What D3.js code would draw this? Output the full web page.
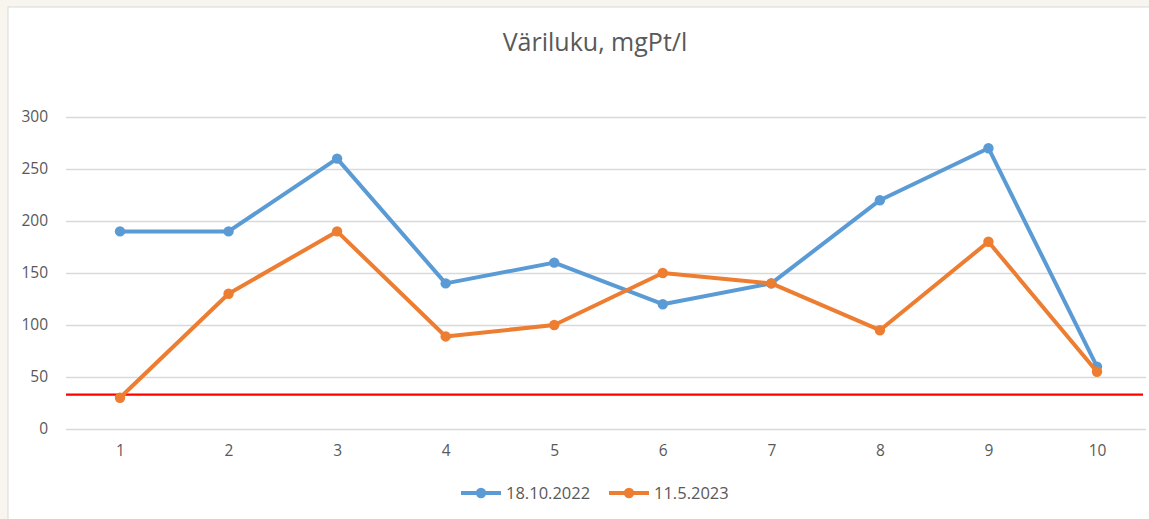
<!DOCTYPE html>
<html><head><meta charset="utf-8">
<script src="https://cdn.jsdelivr.net/npm/d3@7"></script>
<style>
html,body{margin:0;padding:0;background:#f7f5ee;}
svg{display:block;}
</style></head>
<body>
<svg id="chart" width="1149" height="519"></svg>
<script>
const categories = ["1","2","3","4","5","6","7","8","9","10"];
const series2022 = [190,190,260,140,160,120,140,220,270,60];
const series2023 = [30,130,190,89,100,150,140,95,180,55];
const seriesNames = ["18.10.2022","11.5.2023"];
const seriesColors = ["#5b9bd5","#ed7d31"];
const yTicks = [0,50,100,150,200,250,300];
const limitValue = 33;
const title = "Väriluku, mgPt/l";

const svg = d3.select("#chart");
const font = "'Open Sans', sans-serif";
const textColor = "#595959";

// chart area
svg.append("rect").attr("x",8).attr("y",7).attr("width",1149).attr("height",519)
  .attr("fill","#ffffff").attr("stroke","#d9d9d9").attr("stroke-width",1);

const x = d3.scalePoint().domain(categories).range([120,1097]);
const y = d3.scaleLinear().domain([0,300]).range([429,117]);

// gridlines
const yAxis = d3.axisLeft(y).tickValues(yTicks).tickSize(-(1146-66)).tickPadding(18);
const gy = svg.append("g").attr("transform","translate(66,0)").call(yAxis);
gy.select(".domain").remove();
gy.selectAll(".tick line").attr("stroke","#d9d9d9").attr("stroke-width",1.3);
gy.selectAll(".tick text").attr("fill",textColor).attr("font-family",font).attr("font-size",15.5);

const xAxis = d3.axisBottom(x).tickSize(0).tickPadding(16);
const gx = svg.append("g").attr("transform","translate(0,429)").call(xAxis);
gx.select(".domain").remove();
gx.selectAll(".tick text").attr("fill",textColor).attr("font-family",font).attr("font-size",15.5);

// title
svg.append("text").attr("x",595).attr("y",51).attr("text-anchor","middle")
  .attr("fill",textColor).attr("font-family",font).attr("font-size",25).text(title);

// red limit line
svg.append("line").attr("x1",66).attr("x2",1143).attr("y1",y(limitValue)).attr("y2",y(limitValue))
  .attr("stroke","#ff0000").attr("stroke-width",2.2);

const line = d3.line().x((d,i)=>x(categories[i])).y(d=>y(d));
[series2022, series2023].forEach((s,k)=>{
  svg.append("path").datum(s).attr("d",line).attr("fill","none")
    .attr("stroke",seriesColors[k]).attr("stroke-width",4).attr("stroke-linejoin","round");
  svg.append("g").selectAll("circle").data(s).join("circle")
    .attr("cx",(d,i)=>x(categories[i])).attr("cy",d=>y(d)).attr("r",5.2)
    .attr("fill",seriesColors[k]);
});

// legend
const legendX = [461, 609];
seriesNames.forEach((n,k)=>{
  const g = svg.append("g").attr("transform",`translate(${legendX[k]},493)`);
  g.append("line").attr("x1",0).attr("x2",40).attr("y1",0).attr("y2",0)
    .attr("stroke",seriesColors[k]).attr("stroke-width",4);
  g.append("circle").attr("cx",20).attr("cy",0).attr("r",5.2).attr("fill",seriesColors[k]);
  g.append("text").attr("x",45).attr("y",6).attr("fill",textColor)
    .attr("font-family",font).attr("font-size",16.5).text(n);
});
</script>
</body></html>
